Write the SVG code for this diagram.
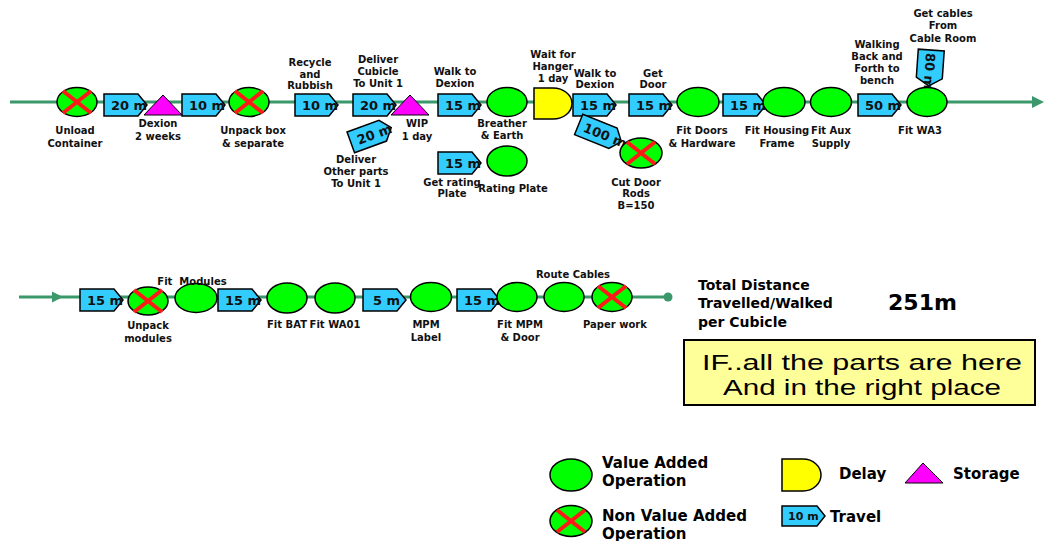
<svg xmlns="http://www.w3.org/2000/svg" xmlns:xlink="http://www.w3.org/1999/xlink" width="1044" height="541" viewBox="0 0 1044 541">
  <style>
    .flow { stroke: #3a986b; stroke-width: 3; fill: none; }
    .va { fill: #00ff00; stroke: #000; stroke-width: 1.5; }
    .x { stroke: #ff1a1a; stroke-width: 4; stroke-linecap: butt; }
    .trav { fill: #33ccff; stroke: #000; stroke-width: 1.5; stroke-linejoin: miter; }
    .store { fill: #ff00ff; stroke: #000; stroke-width: 1; }
    .delay { fill: #ffff00; stroke: #000; stroke-width: 1.5; }
    .lbl { font-family: "DejaVu Sans", Verdana, sans-serif; font-weight: bold; font-size: 10px; fill: #111; text-anchor: middle; }
    .tt { font-family: "DejaVu Sans", Verdana, sans-serif; font-weight: bold; font-size: 13px; fill: #111; }
    .big { font-family: "DejaVu Sans", Verdana, sans-serif; font-weight: bold; font-size: 14px; fill: #000; }
    .total { font-family: "DejaVu Sans", Verdana, sans-serif; font-weight: bold; font-size: 21px; fill: #000; }
    .leg { font-family: "DejaVu Sans", Verdana, sans-serif; font-weight: bold; font-size: 15px; fill: #000; }
    .note { font-family: "Liberation Sans", Arial, sans-serif; font-size: 22px; fill: #000; text-anchor: middle; }
  </style>
  <defs>
    <!-- travel chevron, 43 x 22 -->
    <path id="trav" class="trav" d="M0,0 H34 L43,11 L34,22 H0 Z"/>
    <!-- non value added cross, centred on origin -->
    <g id="cross">
      <line class="x" x1="-14" y1="-11" x2="14" y2="11"/>
      <line class="x" x1="-14" y1="11" x2="14" y2="-11"/>
    </g>
  </defs>

  <!-- flow lines -->
  <g id="connectors">
    <line class="flow" x1="10" y1="102" x2="1034" y2="102"/>
    <polygon points="1032,96 1044,102 1032,108" fill="#3a986b"/>
    <line class="flow" x1="19" y1="297" x2="668" y2="297"/>
    <polygon points="52,291.5 63,297 52,302.5" fill="#3a986b"/>
    <circle cx="668" cy="297" r="4.5" fill="#3a986b"/>
  </g>

  <!-- top row -->
  <g id="unload-container">
    <ellipse class="va" cx="77" cy="102" rx="20" ry="14.5"/>
    <use xlink:href="#cross" x="77" y="102"/>
    <text class="lbl" x="75" y="134">Unload</text>
    <text class="lbl" x="75" y="147">Container</text>
  </g>
  <g id="travel-1">
    <use xlink:href="#trav" x="104" y="94"/>
    <text class="tt" x="111" y="110">20 m</text>
  </g>
  <g id="dexion">
    <polygon class="store" points="163,95 182,115 144,115"/>
    <text class="lbl" x="158" y="127">Dexion</text>
    <text class="lbl" x="158" y="140">2 weeks</text>
  </g>
  <g id="travel-2">
    <use xlink:href="#trav" x="182" y="94"/>
    <text class="tt" x="189" y="110">10 m</text>
  </g>
  <g id="unpack-box">
    <ellipse class="va" cx="249" cy="102" rx="20" ry="14.5"/>
    <use xlink:href="#cross" x="249" y="102"/>
    <text class="lbl" x="253" y="134">Unpack box</text>
    <text class="lbl" x="253" y="147">&amp; separate</text>
  </g>
  <g id="recycle">
    <use xlink:href="#trav" x="295" y="94"/>
    <text class="tt" x="302" y="110">10 m</text>
    <text class="lbl" x="310" y="66">Recycle</text>
    <text class="lbl" x="310" y="78">and</text>
    <text class="lbl" x="310" y="89">Rubbish</text>
  </g>
  <g id="deliver-cubicle">
    <use xlink:href="#trav" x="353" y="94"/>
    <text class="tt" x="360" y="110">20 m</text>
    <text class="lbl" x="378" y="63">Deliver</text>
    <text class="lbl" x="378" y="75">Cubicle</text>
    <text class="lbl" x="378" y="87">To Unit 1</text>
  </g>
  <g id="wip">
    <polygon class="store" points="410,95 429,115 391,115"/>
    <text class="lbl" x="417" y="127">WIP</text>
    <text class="lbl" x="417" y="140">1 day</text>
  </g>
  <g id="deliver-other-parts">
    <g transform="translate(371,135) rotate(-20) translate(-21.5,-11)">
      <use xlink:href="#trav"/>
      <text class="tt" x="7" y="16">20 m</text>
    </g>
    <text class="lbl" x="356" y="163">Deliver</text>
    <text class="lbl" x="356" y="175">Other parts</text>
    <text class="lbl" x="356" y="187">To Unit 1</text>
  </g>
  <g id="walk-to-dexion-1">
    <use xlink:href="#trav" x="438" y="94"/>
    <text class="tt" x="445" y="110">15 m</text>
    <text class="lbl" x="455" y="75">Walk to</text>
    <text class="lbl" x="455" y="87">Dexion</text>
  </g>
  <g id="breather-earth">
    <ellipse class="va" cx="507" cy="102" rx="20" ry="14.5"/>
    <text class="lbl" x="502" y="127">Breather</text>
    <text class="lbl" x="502" y="139">&amp; Earth</text>
  </g>
  <g id="get-rating-plate">
    <use xlink:href="#trav" x="438" y="152"/>
    <text class="tt" x="445" y="168">15 m</text>
    <text class="lbl" x="452" y="186">Get rating</text>
    <text class="lbl" x="452" y="197">Plate</text>
  </g>
  <g id="rating-plate">
    <ellipse class="va" cx="507" cy="161" rx="20" ry="15"/>
    <text class="lbl" x="513" y="192">Rating Plate</text>
  </g>
  <g id="wait-for-hanger">
    <path class="delay" d="M534,88 H553 A19,15.5 0 0 1 553,119 H534 Z"/>
    <text class="lbl" x="553" y="58">Wait for</text>
    <text class="lbl" x="553" y="70">Hanger</text>
    <text class="lbl" x="553" y="82">1 day</text>
  </g>
  <g id="walk-to-dexion-2">
    <use xlink:href="#trav" x="573" y="94"/>
    <text class="tt" x="580" y="110">15 m</text>
    <text class="lbl" x="595" y="77">Walk to</text>
    <text class="lbl" x="595" y="88">Dexion</text>
  </g>
  <g id="cut-door-rods">
    <g transform="translate(600,133) rotate(22) translate(-23,-11)">
      <path class="trav" d="M0,0 H37 L46,11 L37,22 H0 Z"/>
      <text class="tt" x="6" y="16">100 m</text>
    </g>
    <ellipse class="va" cx="641" cy="153" rx="21" ry="15"/>
    <use xlink:href="#cross" x="641" y="153"/>
    <text class="lbl" x="636" y="186">Cut Door</text>
    <text class="lbl" x="636" y="197">Rods</text>
    <text class="lbl" x="636" y="209">B=150</text>
  </g>
  <g id="get-door">
    <use xlink:href="#trav" x="629" y="94"/>
    <text class="tt" x="636" y="110">15 m</text>
    <text class="lbl" x="653" y="77">Get</text>
    <text class="lbl" x="653" y="88">Door</text>
  </g>
  <g id="fit-doors">
    <ellipse class="va" cx="698" cy="102" rx="21" ry="14.5"/>
    <text class="lbl" x="702" y="134">Fit Doors</text>
    <text class="lbl" x="702" y="147">&amp; Hardware</text>
  </g>
  <g id="travel-housing">
    <use xlink:href="#trav" x="723" y="94"/>
    <text class="tt" x="730" y="110">15 m</text>
  </g>
  <g id="fit-housing-frame">
    <ellipse class="va" cx="784" cy="102" rx="21" ry="14.5"/>
    <text class="lbl" x="777" y="134">Fit Housing</text>
    <text class="lbl" x="777" y="147">Frame</text>
  </g>
  <g id="fit-aux-supply">
    <ellipse class="va" cx="831" cy="102" rx="20.5" ry="14.5"/>
    <text class="lbl" x="831" y="134">Fit Aux</text>
    <text class="lbl" x="831" y="147">Supply</text>
  </g>
  <g id="walking-back">
    <use xlink:href="#trav" x="858" y="94"/>
    <text class="tt" x="865" y="110">50 m</text>
    <text class="lbl" x="877" y="48">Walking</text>
    <text class="lbl" x="877" y="60">Back and</text>
    <text class="lbl" x="877" y="72">Forth to</text>
    <text class="lbl" x="877" y="84">bench</text>
  </g>
  <g id="get-cables">
    <g transform="translate(930,68) rotate(94) translate(-18,-13)">
      <path class="trav" d="M0,0 H28 L36,13 L28,26 H0 Z"/>
      <text class="tt" x="3" y="18">80 m</text>
    </g>
    <text class="lbl" x="943" y="17">Get cables</text>
    <text class="lbl" x="943" y="29">From</text>
    <text class="lbl" x="943" y="42">Cable Room</text>
  </g>
  <g id="fit-wa3">
    <ellipse class="va" cx="927" cy="102" rx="20" ry="14.5"/>
    <text class="lbl" x="920" y="134">Fit WA3</text>
  </g>

  <!-- bottom row -->
  <g id="travel-modules">
    <use xlink:href="#trav" x="80" y="289"/>
    <text class="tt" x="87" y="305">15 m</text>
  </g>
  <g id="unpack-modules">
    <ellipse class="va" cx="148" cy="301" rx="20" ry="14"/>
    <use xlink:href="#cross" x="148" y="301"/>
    <text class="lbl" x="148" y="329">Unpack</text>
    <text class="lbl" x="148" y="342">modules</text>
  </g>
  <g id="fit-modules">
    <ellipse class="va" cx="196" cy="298" rx="21" ry="14.5"/>
    <text class="lbl" x="192" y="285" xml:space="preserve">Fit  Modules</text>
  </g>
  <g id="travel-bat">
    <use xlink:href="#trav" x="218" y="289"/>
    <text class="tt" x="225" y="305">15 m</text>
  </g>
  <g id="fit-bat">
    <ellipse class="va" cx="287" cy="298" rx="20" ry="15"/>
    <text class="lbl" x="287" y="328">Fit BAT</text>
  </g>
  <g id="fit-wa01">
    <ellipse class="va" cx="335" cy="298" rx="20" ry="15"/>
    <text class="lbl" x="335" y="328">Fit WA01</text>
  </g>
  <g id="travel-mpm-label">
    <use xlink:href="#trav" x="363" y="289"/>
    <text class="tt" x="373" y="305">5 m</text>
  </g>
  <g id="mpm-label">
    <ellipse class="va" cx="431" cy="297" rx="20.5" ry="14.5"/>
    <text class="lbl" x="426" y="328">MPM</text>
    <text class="lbl" x="426" y="341">Label</text>
  </g>
  <g id="travel-mpm-door">
    <use xlink:href="#trav" x="457" y="289"/>
    <text class="tt" x="464" y="305">15 m</text>
  </g>
  <g id="fit-mpm-door">
    <ellipse class="va" cx="517" cy="297" rx="20" ry="14.5"/>
    <text class="lbl" x="520" y="328">Fit MPM</text>
    <text class="lbl" x="520" y="341">&amp; Door</text>
  </g>
  <g id="route-cables">
    <ellipse class="va" cx="564" cy="297" rx="20" ry="14.5"/>
    <text class="lbl" x="573" y="278">Route Cables</text>
  </g>
  <g id="paper-work">
    <ellipse class="va" cx="612" cy="297" rx="20" ry="14.5"/>
    <use xlink:href="#cross" x="612" y="297"/>
    <text class="lbl" x="615" y="328">Paper work</text>
  </g>

  <!-- totals -->
  <g id="total-distance">
    <text class="big" x="698" y="290">Total Distance</text>
    <text class="big" x="698" y="308">Travelled/Walked</text>
    <text class="big" x="698" y="327">per Cubicle</text>
    <text class="total" x="888" y="310" textLength="69" lengthAdjust="spacingAndGlyphs">251m</text>
  </g>
  <g id="condition-note">
    <rect x="684" y="340" width="351" height="65" fill="#ffff99" stroke="#000" stroke-width="2"/>
    <text class="note" x="862" y="370" textLength="320" lengthAdjust="spacingAndGlyphs">IF..all the parts are here</text>
    <text class="note" x="862" y="395" textLength="278" lengthAdjust="spacingAndGlyphs">And in the right place</text>
  </g>

  <!-- key -->
  <g id="legend">
    <ellipse class="va" cx="571" cy="475" rx="21" ry="16"/>
    <text class="leg" x="602" y="468">Value Added</text>
    <text class="leg" x="602" y="486">Operation</text>
    <ellipse class="va" cx="571" cy="521" rx="21" ry="15.5"/>
    <use xlink:href="#cross" x="571" y="521"/>
    <text class="leg" x="602" y="521">Non Value Added</text>
    <text class="leg" x="602" y="539">Operation</text>
    <path class="delay" d="M782,459 H803 A18,16 0 0 1 803,491 H782 Z"/>
    <text class="leg" x="839" y="479">Delay</text>
    <polygon class="store" points="923,463 943,483 905,483"/>
    <text class="leg" x="953" y="479">Storage</text>
    <path class="trav" d="M782,506 H817 L825,516 L817,526 H782 Z"/>
    <text class="tt" x="788" y="520" style="font-size:11px">10 m</text>
    <text class="leg" x="830" y="522">Travel</text>
  </g>
</svg>
